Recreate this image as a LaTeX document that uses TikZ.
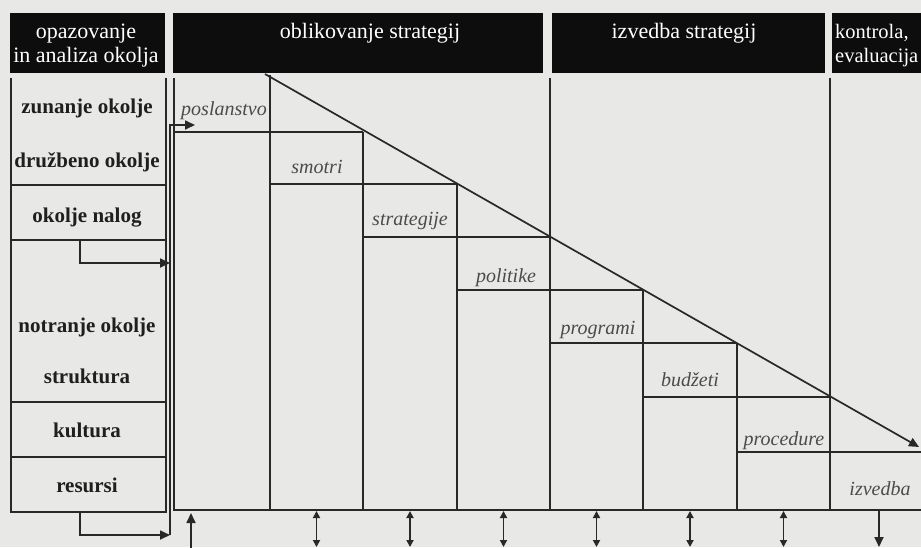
\documentclass[tikz,border=0pt]{standalone}
\usepackage{fontspec}
\setmainfont{Liberation Serif}
\usetikzlibrary{arrows.meta}
\definecolor{bg}{RGB}{232,232,230}
\definecolor{lnc}{RGB}{40,40,40}
\definecolor{labc}{RGB}{75,75,75}
\begin{document}
\begin{tikzpicture}[x=1pt,y=-1pt,
  hdrbox/.style={fill=black!95, draw=none},
  hdrtext/.style={text=white, font=\fontsize{22}{24}\selectfont, align=center, inner sep=0pt, anchor=base},
  lefttext/.style={text=black!88, font=\bfseries\fontsize{21}{22}\selectfont, inner sep=0pt, anchor=base},
  steptext/.style={text=labc, font=\itshape\fontsize{20}{22}\selectfont, inner sep=0pt, anchor=base},
  ln/.style={draw=lnc, line width=1.7pt},
  arr/.style={ln, -{Triangle[length=10pt,width=9pt]}},
  darr/.style={ln, {Triangle[length=7pt,width=7pt]}-{Triangle[length=7pt,width=7pt]}}
]
\fill[bg] (0,0) rectangle (921,547);
\useasboundingbox (0,0) rectangle (921,547);

% header boxes
\fill[hdrbox] (10,13) rectangle (165,73);
\fill[hdrbox] (173,13) rectangle (543,73);
\fill[hdrbox] (552,13) rectangle (825,73);
\fill[hdrbox] (832,13) rectangle (921,73);
\node[hdrtext] (h1) at (86,62) {opazovanje\\in analiza okolja};
\node[hdrtext] (h2) at (370,38) {oblikovanje strategij};
\node[hdrtext] (h3) at (684,38) {izvedba strategij};
\node[hdrtext, font=\fontsize{20.5}{24}\selectfont, align=left, anchor=base west] (h4) at (835,62) {kontrola,\\evaluacija};

% left box
\draw[ln] (11,78) -- (11,512) -- (166,512) -- (166,78);
\foreach \y in {185,240,402,457} \draw[ln] (11,\y) -- (166,\y);
\node[lefttext] (l1) at (87,113) {zunanje okolje};
\node[lefttext] (l2) at (87,167) {družbeno okolje};
\node[lefttext] (l3) at (87,222) {okolje nalog};
\node[lefttext] (l4) at (87,332) {notranje okolje};
\node[lefttext] (l5) at (87,383) {struktura};
\node[lefttext] (l6) at (87,437) {kultura};
\node[lefttext] (l7) at (87,492) {resursi};

% staircase frame
\draw[ln] (174,78) -- (174,510) -- (921,510);
\foreach \xa/\xb/\y in {174/363/132, 270/457/184, 363/550/237, 457/643/290, 550/737/343, 643/830/397, 737/921/452}
  \draw[ln] (\xa,\y) -- (\xb,\y);
\foreach \x/\y in {270/75, 363/132, 457/184, 550/78, 643/290, 737/343, 830/78}
  \draw[ln] (\x,\y) -- (\x,510);

% diagonal
\coordinate (d0) at (265,74);
\coordinate (d1) at (919,447);
\draw[arr] (d0) -- (d1);

% step labels
\node[steptext] (s1) at (224,115) {poslanstvo};
\node[steptext] (s2) at (317,173) {smotri};
\node[steptext] (s3) at (410,225) {strategije};
\node[steptext] (s4) at (506,282) {politike};
\node[steptext] (s5) at (598,334) {programi};
\node[steptext] (s6) at (690,386) {budžeti};
\node[steptext] (s7) at (784,445) {procedure};
\node[steptext] (s8) at (880,495) {izvedba};

% feedback from the environment box
\coordinate (e1) at (80,240);
\coordinate (e1t) at (170,263);
\coordinate (e2) at (80,512);
\coordinate (busb) at (170,535);
\coordinate (bust) at (170,125);
\coordinate (busa) at (195,125);
\draw[arr] (e1) |- (e1t);
\draw[arr] (e2) |- (busb);
\draw[arr] (busb) -- (bust) -- (busa);

% bottom arrows
\coordinate (u0) at (191,550);
\coordinate (u1) at (191,513);
\draw[arr] (u0) -- (u1);
\foreach \x [count=\i] in {316.5,410,503.5,596.5,690,783.5} {
  \coordinate (ba\i) at (\x,511);
  \coordinate (bb\i) at (\x,547);
  \draw[darr] (ba\i) -- (bb\i);
}
\coordinate (v0) at (879,510);
\coordinate (v1) at (879,547);
\draw[arr] (v0) -- (v1);
\end{tikzpicture}
\end{document}
